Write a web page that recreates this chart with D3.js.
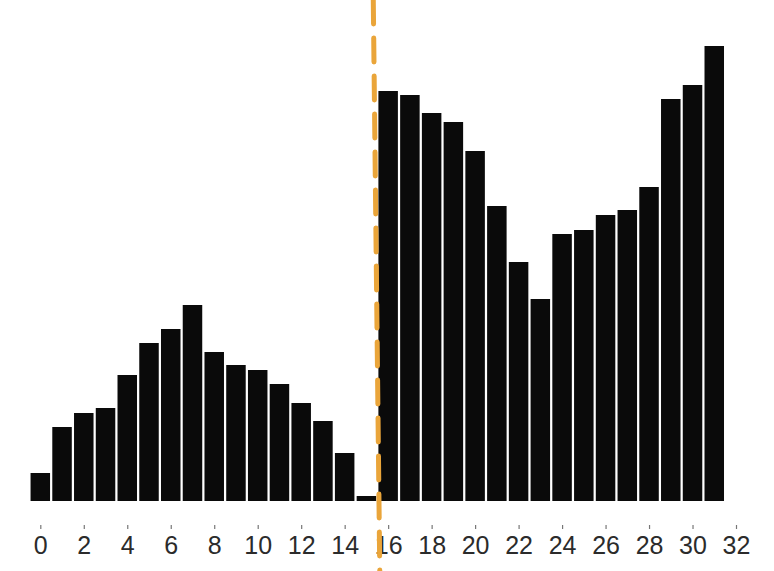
<!DOCTYPE html>
<html>
<head>
<meta charset="utf-8">
<script src="https://cdn.jsdelivr.net/npm/d3@7"></script>
<style>
  body { margin: 0; background: #fff; }
  svg { display: block; }
</style>
</head>
<body>
<svg id="canvas" width="774" height="571"></svg>
<script>
// bin positions and bar heights
const bins = d3.range(0, 32);
const counts = [28, 74, 88, 93, 126, 158, 172, 196, 149, 136, 131, 117, 98, 80, 48, 5,
                410, 406, 388, 379, 350, 295, 239, 202, 267, 271, 286, 291, 314, 402, 416, 455];
const tickValues = d3.range(0, 33, 2);
const splitAt = 15.5;

let canvas = d3.select("#canvas");

let x = d3.scaleLinear().domain([0, 32]).range([40.3, 736]);
let y = d3.scaleLinear().domain([0, 455]).range([501, 46]);
let barWidth = 19.5;

// bars
canvas.selectAll("rect")
    .data(bins)
    .enter()
    .append("rect")
    .attr("x", (d) => x(d) - barWidth / 2)
    .attr("y", (d) => y(counts[d]))
    .attr("width", barWidth)
    .attr("height", (d) => y(0) - y(counts[d]))
    .attr("fill", "#0a0a0a");

// x axis, no domain line, just small ticks over the labels
let axis = canvas.append("g")
    .attr("transform", "translate(0,525)")
    .call(d3.axisBottom(x).tickValues(tickValues).tickSize(4).tickPadding(7));

axis.select(".domain").remove();
axis.selectAll(".tick line").attr("stroke", "#777").attr("stroke-width", 1.2);
axis.selectAll(".tick text")
    .attr("fill", "#2b2b2b")
    .style("font-family", "'Liberation Sans', Arial, sans-serif")
    .style("font-size", "25px");

// dashed orange split line, hand drawn so it leans a little
canvas.append("line")
    .attr("x1", x(splitAt) - 4)
    .attr("y1", 0)
    .attr("x2", x(splitAt) + 2.5)
    .attr("y2", 571)
    .attr("stroke", "#eaa53a")
    .attr("stroke-width", 5)
    .attr("stroke-linecap", "round")
    .attr("stroke-dasharray", "24,14");
</script>
</body>
</html>
